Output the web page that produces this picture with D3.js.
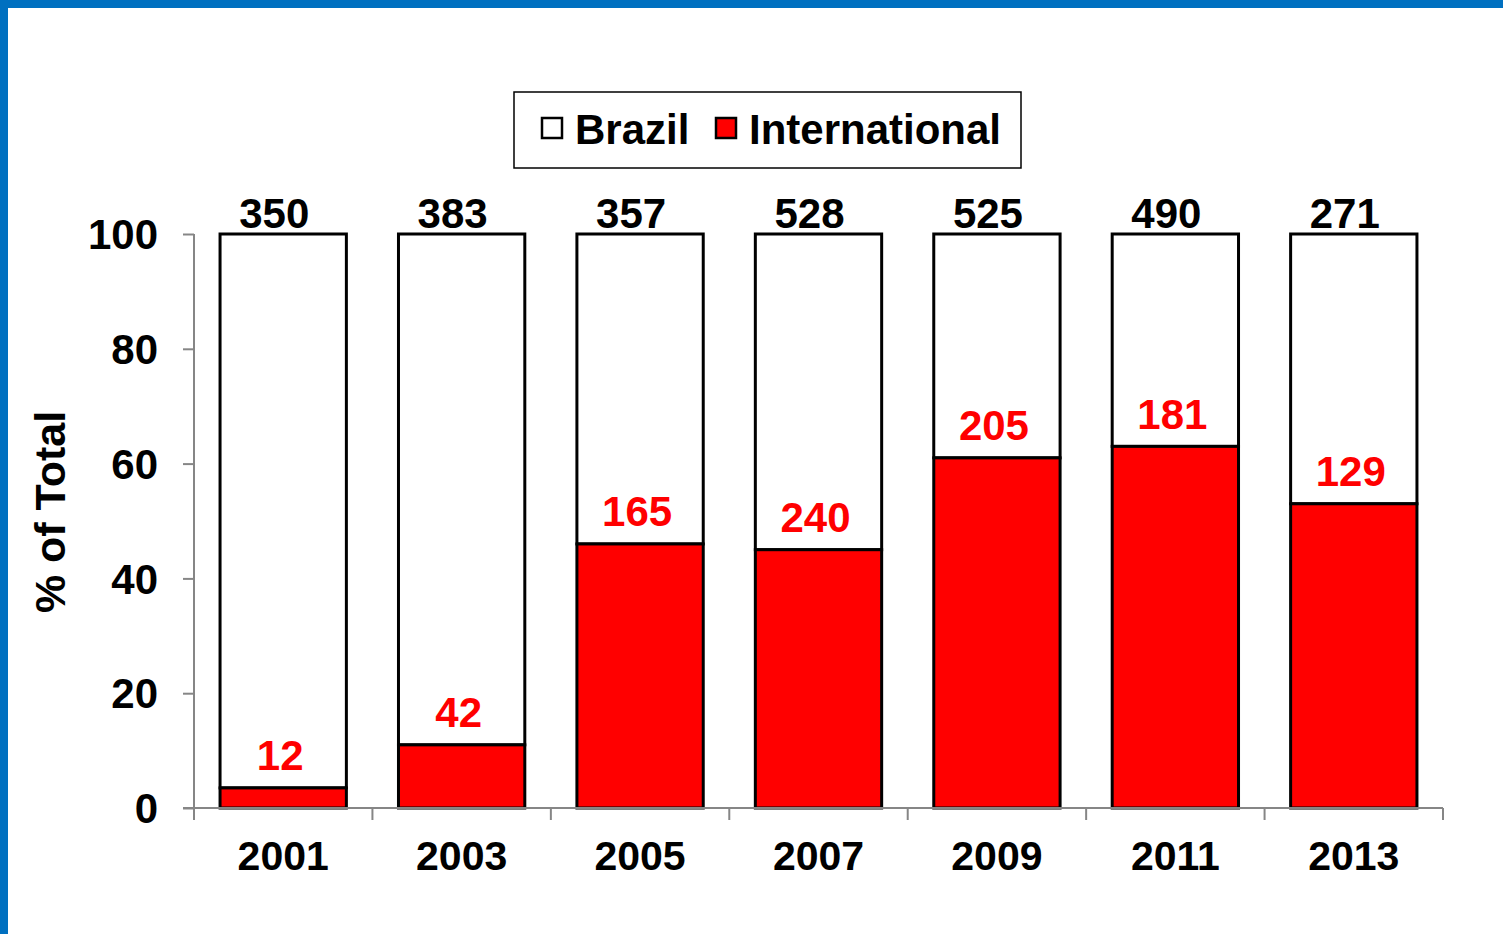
<!DOCTYPE html>
<html>
<head>
<meta charset="utf-8">
<script src="https://cdn.jsdelivr.net/npm/d3@7"></script>
<style>
  body { margin: 0; background: #fff; }
  svg text { font-family: "Liberation Sans", Arial, sans-serif; font-weight: bold; }
</style>
</head>
<body>
<script>
// chart size
var w = 1503;
var h = 934;

// plot area
var pdL = 194;
var pdR = 1443;
var pdT = 234;
var pdB = 808;

// data
var years = ["2001", "2003", "2005", "2007", "2009", "2011", "2013"];
var intlPct = [3.5, 11, 46, 45, 61, 63, 53];       // % international
var totalLabels = ["350", "383", "357", "528", "525", "490", "271"];
var intlLabels = ["12", "42", "165", "240", "205", "181", "129"];
var yTicks = [0, 20, 40, 60, 80, 100];

var dataset = years.map(function(y, i) {
    return { year: y, intl: intlPct[i], brazil: 100 - intlPct[i],
             total: totalLabels[i], intlLab: intlLabels[i] };
});

var svg = d3.select("body")
            .append("svg")
            .attr("width", w)
            .attr("height", h);

// blue frame top and left
svg.append("rect").attr("x", 0).attr("y", 0).attr("width", w).attr("height", 8).attr("fill", "#0070C0");
svg.append("rect").attr("x", 0).attr("y", 0).attr("width", 8).attr("height", h).attr("fill", "#0070C0");

// scales
var scaleX = d3.scaleBand()
               .domain(years)
               .range([pdL, pdR])
               .paddingInner(0.292)
               .paddingOuter(0.146);

var scaleY = d3.scaleLinear()
               .domain([0, 100])
               .range([pdB, pdT]);

var axisCol = "#868686";

// bars - Brazil (full stack to 100) then international
var bw = scaleX.bandwidth();
svg.selectAll("rect.brazil")
   .data(dataset)
   .enter()
   .append("rect")
   .attr("class", "brazil")
   .attr("x", function(d) { return scaleX(d.year); })
   .attr("y", function(d) { return scaleY(100); })
   .attr("width", bw)
   .attr("height", function(d) { return scaleY(d.intl) - scaleY(100); })
   .attr("fill", "#fff")
   .attr("stroke", "#000")
   .attr("stroke-width", 3);

svg.selectAll("rect.intl")
   .data(dataset)
   .enter()
   .append("rect")
   .attr("class", "intl")
   .attr("x", function(d) { return scaleX(d.year); })
   .attr("y", function(d) { return scaleY(d.intl); })
   .attr("width", bw)
   .attr("height", function(d) { return pdB - scaleY(d.intl); })
   .attr("fill", "#FF0000")
   .attr("stroke", "#000")
   .attr("stroke-width", 3);

// y axis
var axisY = d3.axisLeft(scaleY).tickValues(yTicks).tickSize(11).tickPadding(25);
var gY = svg.append("g")
   .attr("class", "axis_y")
   .attr("transform", "translate(" + pdL + ",0)")
   .call(axisY);
gY.select(".domain").attr("stroke", axisCol).attr("stroke-width", 2).attr("d", "M0," + pdT + "V" + pdB);
gY.selectAll(".tick line").attr("stroke", axisCol).attr("stroke-width", 2);
gY.selectAll(".tick text")
  .attr("fill", "#000")
  .style("font-size", "42px")
  .attr("dy", "0.35em");

// x axis - labels
var axisX = d3.axisBottom(scaleX).tickSize(0).tickPadding(33);
var gX = svg.append("g")
   .attr("class", "axis_x")
   .attr("transform", "translate(0," + pdB + ")")
   .call(axisX);
gX.select(".domain").attr("stroke", axisCol).attr("stroke-width", 2).attr("d", "M" + (pdL - 11) + ",0H" + pdR);
gX.selectAll(".tick text")
  .attr("fill", "#000")
  .style("font-size", "41px");

// x axis - boundary ticks between categories
var bounds = years.map(function(y) { return scaleX(y) - scaleX.step() * scaleX.paddingInner() / 2; });
bounds.push(pdR);
gX.selectAll("line.sep")
  .data(bounds)
  .enter()
  .append("line")
  .attr("class", "sep")
  .attr("x1", function(d) { return d; })
  .attr("x2", function(d) { return d; })
  .attr("y1", 0)
  .attr("y2", 12)
  .attr("stroke", axisCol)
  .attr("stroke-width", 2);

// total labels
svg.selectAll("text.total")
   .data(dataset)
   .enter()
   .append("text")
   .attr("class", "total")
   .attr("x", function(d) { return scaleX(d.year) + bw / 2 - 9; })
   .attr("y", scaleY(100) - 21)
   .attr("text-anchor", "middle")
   .attr("dominant-baseline", "central")
   .style("font-size", "42px")
   .attr("fill", "#000")
   .text(function(d) { return d.total; });

// international labels
svg.selectAll("text.intlLab")
   .data(dataset)
   .enter()
   .append("text")
   .attr("class", "intlLab")
   .attr("x", function(d) { return scaleX(d.year) + bw / 2 - 3; })
   .attr("y", function(d) { return scaleY(d.intl) - 32; })
   .attr("text-anchor", "middle")
   .attr("dominant-baseline", "central")
   .style("font-size", "42px")
   .attr("fill", "#FF0000")
   .text(function(d) { return d.intlLab; });

// y title
svg.append("text")
   .attr("transform", "translate(50,512) rotate(-90)")
   .attr("text-anchor", "middle")
   .attr("dominant-baseline", "central")
   .style("font-size", "43px")
   .attr("fill", "#000")
   .text("% of Total");

// legend
svg.append("rect")
   .attr("x", 514).attr("y", 92)
   .attr("width", 507).attr("height", 76)
   .attr("fill", "#fff").attr("stroke", "#000").attr("stroke-width", 1.5);

var legendItems = [
    { name: "Brazil", fill: "#fff", x: 542 },
    { name: "International", fill: "#FF0000", x: 716 }
];
legendItems.forEach(function(it) {
    svg.append("rect")
       .attr("x", it.x).attr("y", 118)
       .attr("width", 20).attr("height", 20)
       .attr("fill", it.fill).attr("stroke", "#000").attr("stroke-width", 2.5);
    svg.append("text")
       .attr("x", it.x + 33)
       .attr("y", 129)
       .attr("dominant-baseline", "central")
       .style("font-size", "42px")
       .attr("fill", "#000")
       .text(it.name);
});
</script>
</body>
</html>
